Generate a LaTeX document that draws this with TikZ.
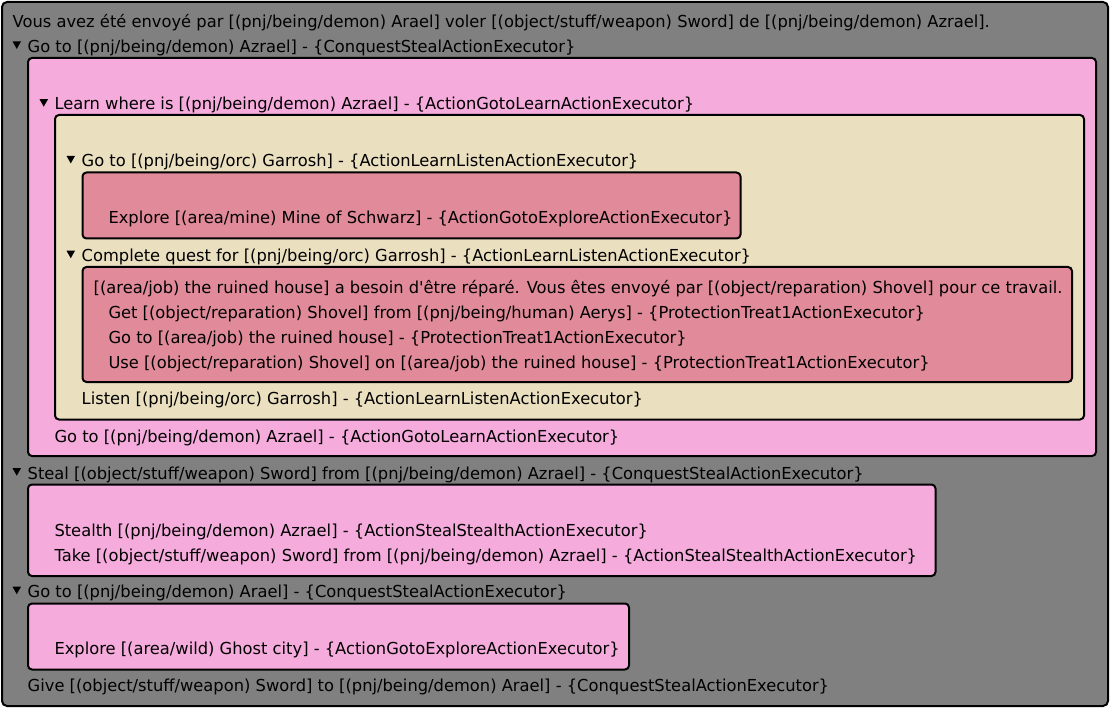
\documentclass[tikz,border=0pt]{standalone}
\usepackage{fontspec}
\newfontfamily\uifont[FakeStretch=0.988]{DejaVu Sans}
\usepackage{tikz}

\definecolor{panelgray}{HTML}{808080}
\definecolor{conquestpink}{HTML}{F5ABDC}
\definecolor{learntan}{HTML}{EADFBF}
\definecolor{treatrose}{HTML}{E08A9A}

\tikzset{
	txt/.style={anchor=base west, inner sep=0pt, font=\uifont\fontsize{16.5}{18}\selectfont},
	box/.style={draw=black, line width=2pt, rounded corners=4pt},
	graybox/.style={box, fill=panelgray, rounded corners=5pt},
	pinkbox/.style={box, fill=conquestpink},
	tanbox/.style={box, fill=learntan},
	rosebox/.style={box, fill=treatrose},
}

\begin{document}
\begin{tikzpicture}[x=1pt, y=-1pt]

% frame %{{{2

	\useasboundingbox (0,0) rectangle (1110,708);
	\draw[graybox] (2,2) rectangle (1108,706);

% boxes %{{{2

	\draw[pinkbox] (28,58) rectangle (1096,456);
	\draw[tanbox] (55,115) rectangle (1084,419.5);
	\draw[rosebox] (82.5,172.5) rectangle (740.5,238.5);
	\draw[rosebox] (82.5,267) rectangle (1072,382);
	\draw[pinkbox] (28,484.5) rectangle (935.5,576);
	\draw[pinkbox] (28,603.5) rectangle (629,669.5);

% fold markers %{{{2

	\foreach \x/\b in {12.5/52.2, 39.5/110, 66.5/166.7, 66.5/261.5, 12.5/479, 12.5/597.5} {
		\fill (\x,\b-10.8) -- ++(8.5,0) -- ++(-4.25,7.5) -- cycle;
	}

% texts %{{{2

	\node[txt] (vous) at (12.5,27.5) {Vous avez été envoyé par [(pnj/being/demon) Arael] voler [(object/stuff/weapon) Sword] de [(pnj/being/demon) Azrael].};
	\node[txt] (goAzrael) at (27.5,52.2) {Go to [(pnj/being/demon) Azrael] - \{ConquestStealActionExecutor\}};

	\node[txt] (learn) at (54.3,110) {Learn where is [(pnj/being/demon) Azrael] - \{ActionGotoLearnActionExecutor\}};

	\node[txt] (goGarrosh) at (81.5,166.7) {Go to [(pnj/being/orc) Garrosh] - \{ActionLearnListenActionExecutor\}};
	\node[txt] (exploreMine) at (108.3,224) {Explore [(area/mine) Mine of Schwarz] - \{ActionGotoExploreActionExecutor\}};

	\node[txt] (quest) at (81.5,261.5) {Complete quest for [(pnj/being/orc) Garrosh] - \{ActionLearnListenActionExecutor\}};
	\node[txt] (repair) at (93.5,293.5) {[(area/job) the ruined house] a besoin d'être réparé. Vous êtes envoyé par [(object/reparation) Shovel] pour ce travail.};
	\node[txt] (getShovel) at (108.3,318.5) {Get [(object/reparation) Shovel] from [(pnj/being/human) Aerys] - \{ProtectionTreat1ActionExecutor\}};
	\node[txt] (goHouse) at (108.3,343.5) {Go to [(area/job) the ruined house] - \{ProtectionTreat1ActionExecutor\}};
	\node[txt] (useShovel) at (108.3,368.5) {Use [(object/reparation) Shovel] on [(area/job) the ruined house] - \{ProtectionTreat1ActionExecutor\}};

	\node[txt] (listen) at (81.5,404.5) {Listen [(pnj/being/orc) Garrosh] - \{ActionLearnListenActionExecutor\}};
	\node[txt] (goBack) at (54.3,442) {Go to [(pnj/being/demon) Azrael] - \{ActionGotoLearnActionExecutor\}};

	\node[txt] (steal) at (27.5,479) {Steal [(object/stuff/weapon) Sword] from [(pnj/being/demon) Azrael] - \{ConquestStealActionExecutor\}};
	\node[txt] (stealth) at (54.3,536) {Stealth [(pnj/being/demon) Azrael] - \{ActionStealStealthActionExecutor\}};
	\node[txt] (take) at (54.3,561) {Take [(object/stuff/weapon) Sword] from [(pnj/being/demon) Azrael] - \{ActionStealStealthActionExecutor\}};

	\node[txt] (goArael) at (27.5,597.5) {Go to [(pnj/being/demon) Arael] - \{ConquestStealActionExecutor\}};
	\node[txt] (exploreGhost) at (54.3,654.5) {Explore [(area/wild) Ghost city] - \{ActionGotoExploreActionExecutor\}};

	\node[txt] (give) at (27.5,691.5) {Give [(object/stuff/weapon) Sword] to [(pnj/being/demon) Arael] - \{ConquestStealActionExecutor\}};

\end{tikzpicture}
\end{document}
